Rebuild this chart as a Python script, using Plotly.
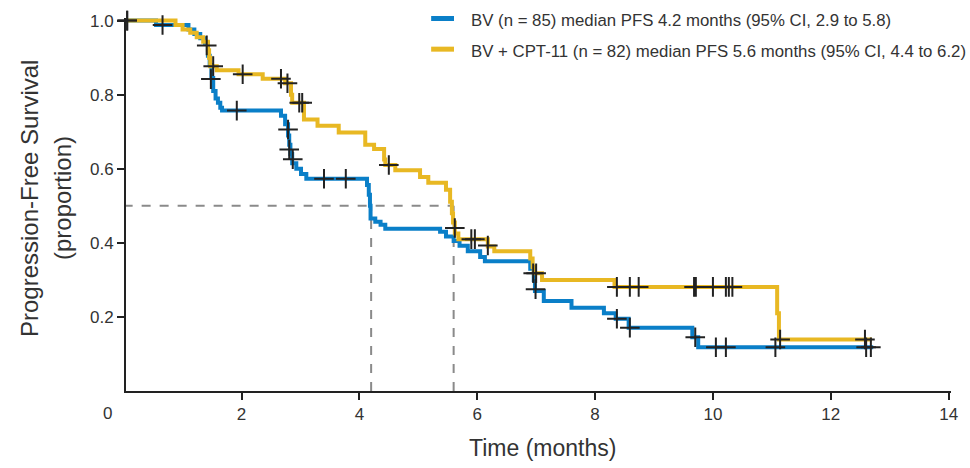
import plotly.graph_objects as go

# ---- data ----
bv_time = [0, 0.55, 1.1, 1.2, 1.3, 1.38, 1.43, 1.46, 1.49, 1.52, 1.56, 1.6, 1.64, 1.67,
           2.67, 2.74, 2.79, 2.81, 2.83, 2.86, 2.93, 3.01, 3.1,
           4.13, 4.16, 4.18, 4.19, 4.27, 4.36, 4.44, 5.37, 5.47, 5.6, 5.7, 5.84, 6.05, 6.13,
           6.9, 6.96, 6.98, 7.13, 7.6, 8.15, 8.35, 8.57, 9.65, 9.75, 12.72]
bv_surv = [1.0, 0.988, 0.976, 0.964, 0.952, 0.94, 0.905, 0.88, 0.845, 0.81, 0.79, 0.778, 0.765, 0.757,
           0.743, 0.72, 0.69, 0.665, 0.64, 0.615, 0.6, 0.586, 0.573,
           0.556, 0.53, 0.5, 0.466, 0.457, 0.449, 0.438, 0.43, 0.417, 0.405, 0.392, 0.377, 0.362, 0.35,
           0.33, 0.3, 0.27, 0.243, 0.225, 0.21, 0.195, 0.171, 0.145, 0.118, 0.118]
bv_cens_t = [0.06, 0.66, 1.48, 1.92, 2.79, 2.81, 2.87, 3.4, 3.77, 6.99, 8.37, 8.59, 9.7,
             10.05, 10.22, 11.06, 12.6, 12.68]
bv_cens_s = [1.0, 0.988, 0.842, 0.757, 0.706, 0.652, 0.626, 0.573, 0.573, 0.275, 0.195, 0.171, 0.145,
             0.118, 0.118, 0.118, 0.118, 0.118]

cpt_time = [0, 0.88, 1.0, 1.13, 1.24, 1.35, 1.43, 1.45, 1.47, 1.58, 1.95, 2.36, 2.74, 2.84, 2.86,
            3.06, 3.29, 3.65, 4.1, 4.25, 4.42, 4.44, 4.61, 5.03, 5.17, 5.47, 5.54, 5.57, 5.59, 5.62,
            5.68, 6.18, 6.29, 6.9, 6.94, 6.96, 7.1, 8.33, 11.09, 11.12, 12.7]
cpt_surv = [1.0, 0.988, 0.976, 0.967, 0.955, 0.943, 0.92, 0.9, 0.877, 0.866, 0.855, 0.843, 0.831, 0.8, 0.778,
            0.733, 0.716, 0.698, 0.665, 0.653, 0.625, 0.61, 0.596, 0.578, 0.562, 0.543, 0.511, 0.48, 0.455, 0.425,
            0.41, 0.39, 0.377, 0.358, 0.335, 0.318, 0.3, 0.281, 0.21, 0.139, 0.139]
cpt_cens_t = [0.06, 1.41, 1.52, 2.02, 2.67, 2.78, 2.98, 3.03, 4.5, 5.62, 5.9, 5.96, 6.18, 6.95, 7.0,
              8.37, 8.59, 8.74, 9.68, 9.71, 10.0, 10.22, 10.27, 10.33, 11.14, 12.58]
cpt_cens_s = [1.0, 0.933, 0.877, 0.855, 0.843, 0.831, 0.778, 0.778, 0.61, 0.44, 0.41, 0.41, 0.393, 0.318, 0.318,
              0.281, 0.281, 0.281, 0.281, 0.281, 0.281, 0.281, 0.281, 0.281, 0.139, 0.139]

medians = [4.2, 5.6]
x_ticks = [2, 4, 6, 8, 10, 12, 14]
y_ticks = [0.2, 0.4, 0.6, 0.8, 1.0]
y_ticktext = ["0.2", "0.4", "0.6", "0.8", "1.0"]
legend_labels = ["BV (n = 85) median PFS 4.2 months (95% CI, 2.9 to 5.8)",
                 "BV + CPT-11 (n = 82) median PFS 5.6 months (95% CI, 4.4 to 6.2)"]

BLUE = "#0a7fc8"
YELLOW = "#e8b823"
DARK = "#222222"
GREY = "#8a8a8a"
TXT = "#333333"
FONT = "Liberation Sans, Arial, sans-serif"

fig = go.Figure()

# median dashed reference lines
fig.add_trace(go.Scatter(x=[0, medians[1]], y=[0.5, 0.5], mode="lines",
                         line=dict(color=GREY, width=2, dash="dash"), showlegend=False, hoverinfo="skip"))
for m in medians:
    fig.add_trace(go.Scatter(x=[m, m], y=[0, 0.5], mode="lines",
                             line=dict(color=GREY, width=2, dash="dash"), showlegend=False, hoverinfo="skip"))

fig.add_trace(go.Scatter(x=bv_time, y=bv_surv, mode="lines", line=dict(color=BLUE, width=4, shape="hv"),
                         showlegend=False))
fig.add_trace(go.Scatter(x=cpt_time, y=cpt_surv, mode="lines", line=dict(color=YELLOW, width=4, shape="hv"),
                         showlegend=False))

cross = dict(symbol="cross-thin", size=14, color=DARK, line=dict(color=DARK, width=2))
fig.add_trace(go.Scatter(x=bv_cens_t, y=bv_cens_s, mode="markers", marker=cross, showlegend=False,
                         cliponaxis=False))
fig.add_trace(go.Scatter(x=cpt_cens_t, y=cpt_cens_s, mode="markers", marker=cross, showlegend=False,
                         cliponaxis=False))

L, R, T, B = 126, 14, 14, 77
W, H = 970, 468
pw = W - L - R
ph = H - T - B

fig.update_layout(
    width=W, height=H, margin=dict(l=L, r=R, t=T, b=B),
    paper_bgcolor="white", plot_bgcolor="white",
    xaxis=dict(range=[0.04, 14.04], tickvals=x_ticks, ticks="outside", ticklen=7, tickwidth=2, tickcolor=DARK,
               showline=True, linecolor=DARK, linewidth=2, showgrid=False, zeroline=False,
               tickfont=dict(family=FONT, size=17, color=TXT)),
    yaxis=dict(range=[0, 1.007], tickvals=y_ticks, ticktext=y_ticktext, ticks="outside", ticklen=7,
               tickwidth=2, tickcolor=DARK, showline=True, linecolor=DARK, linewidth=2,
               showgrid=False, zeroline=False,
               tickfont=dict(family=FONT, size=17, color=TXT)),
)

ann_font = dict(family=FONT, color=TXT)
base_y = H - B  # pixel row of the x axis
# origin label
fig.add_annotation(x=0, y=0, xref="paper", yref="paper", text="0", showarrow=False,
                   xanchor="center", yanchor="middle",
                   xshift=107 - L, yshift=-(413 - base_y), font=dict(size=17, **ann_font))
# x title
fig.add_annotation(x=0, y=0, xref="paper", yref="paper", text="Time (months)", showarrow=False,
                   xanchor="center", yanchor="middle",
                   xshift=542 - L, yshift=-(448 - base_y), font=dict(size=23, **ann_font))
# y title (two lines)
ymid = T + ph / 2
fig.add_annotation(x=0, y=0.5, xref="paper", yref="paper", text="Progression-Free Survival", showarrow=False,
                   textangle=-90, xanchor="center", yanchor="middle",
                   xshift=29 - L, yshift=ymid - 197, font=dict(size=24, **ann_font))
fig.add_annotation(x=0, y=0.5, xref="paper", yref="paper", text="(proportion)", showarrow=False,
                   textangle=-90, xanchor="center", yanchor="middle",
                   xshift=62 - L, yshift=ymid - 196, font=dict(size=24, **ann_font))

# legend drawn manually
for i, (lab, col) in enumerate(zip(legend_labels, [BLUE, YELLOW])):
    ypx = 14.5 + 31 * i
    yp = 1 - (ypx - T) / ph
    fig.add_shape(type="line", xref="paper", yref="paper",
                  x0=(433 - L) / pw, x1=(456 - L) / pw, y0=yp, y1=yp,
                  line=dict(color=col, width=5))
    fig.add_annotation(x=(471 - L) / pw, y=1 - (ypx + 2.5 - T) / ph, xref="paper", yref="paper",
                       text=lab, showarrow=False, xanchor="left", yanchor="middle",
                       font=dict(size=16.8, **ann_font))

page_fix = (
    "var h=document.documentElement, b=document.body;"
    "h.style.margin='0';h.style.padding='0';h.style.overflow='hidden';h.style.height='468px';"
    "b.style.margin='0';b.style.padding='0';b.style.overflow='hidden';b.style.height='468px';"
    "b.style.lineHeight='0';b.style.fontSize='0';"
    "document.querySelectorAll('div').forEach(function(d){d.style.lineHeight='normal';});"
    "var g=document.querySelector('.plotly-graph-div'); if(g){g.style.display='block';"
    "if(g.parentElement){g.parentElement.style.display='block';g.parentElement.style.height='468px';"
    "g.parentElement.style.overflow='hidden';}}"
)
fig.write_html("out.html", config={"displayModeBar": False}, post_script=page_fix)
